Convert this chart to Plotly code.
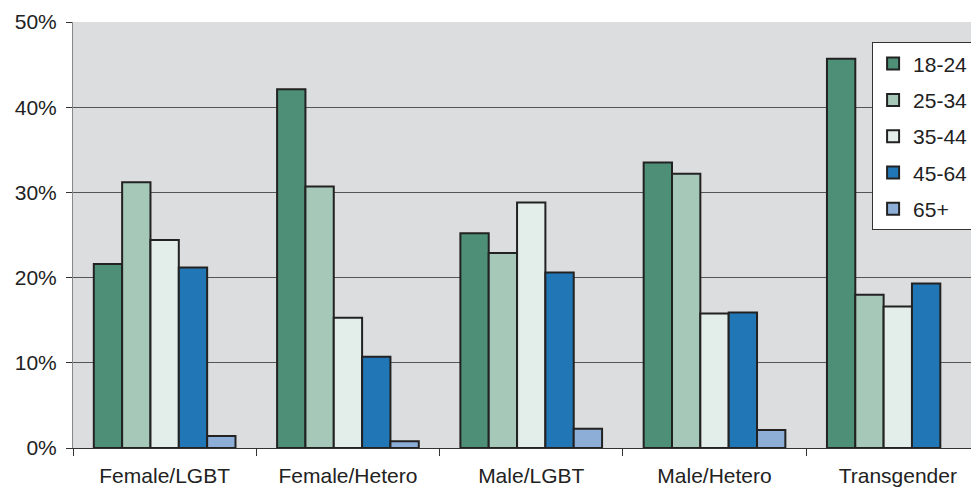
import plotly.graph_objects as go

categories = ["Female/LGBT", "Female/Hetero", "Male/LGBT", "Male/Hetero", "Transgender"]
age_groups = ["18-24", "25-34", "35-44", "45-64", "65+"]
values_18_24 = [21.6, 42.1, 25.2, 33.5, 45.7]
values_25_34 = [31.2, 30.7, 22.9, 32.2, 18.0]
values_35_44 = [24.4, 15.3, 28.8, 15.8, 16.6]
values_45_64 = [21.2, 10.7, 20.6, 15.9, 19.3]
values_65_plus = [1.4, 0.8, 2.25, 2.1, None]
y_tick_values = [0, 10, 20, 30, 40, 50]
y_tick_labels = ["0%", "10%", "20%", "30%", "40%", "50%"]

series = [values_18_24, values_25_34, values_35_44, values_45_64, values_65_plus]
colors = ["#4E8F78", "#A6C8B9", "#E3EDEA", "#2176B5", "#8DAED6"]

fig = go.Figure()
for name, vals, col in zip(age_groups, series, colors):
    fig.add_trace(go.Bar(
        x=categories, y=vals, name=name, legendgroup=name,
        marker=dict(color=col, line=dict(color="#222222", width=2)),
    ))

font = dict(family="Liberation Sans, Arial, sans-serif", size=21, color="#222222")
fig.update_layout(
    width=971, height=481,
    margin=dict(l=65, r=0, t=14, b=41),
    paper_bgcolor="white",
    plot_bgcolor="#DCDDDF",
    font=font,
    barmode="group",
    bargap=0.227,
    bargroupgap=0,
    showlegend=True,
    legend=dict(
        x=0.882, y=0.952, xanchor="left", yanchor="top",
        bgcolor="white", bordercolor="#333333", borderwidth=1,
        font=font,
        traceorder="grouped", tracegroupgap=6,
        itemwidth=30,
    ),
    xaxis=dict(
        range=[-0.5, 4.443],
        tickson="boundaries",
        ticks="outside", ticklen=7, tickcolor="#333333",
        showline=True, linecolor="#333333", linewidth=1,
        showgrid=False,
        tickfont=font,
        ticklabelstandoff=9,
    ),
    yaxis=dict(
        range=[0, 50],
        tickmode="array", tickvals=y_tick_values, ticktext=y_tick_labels,
        ticks="outside", ticklen=6, tickcolor="#333333",
        showline=True, linecolor="#888888", linewidth=1,
        showgrid=True, gridcolor="#555555", gridwidth=1,
        zeroline=False,
        tickfont=font,
        ticklabelstandoff=5,
    ),
)

fig.write_html("out.html")
